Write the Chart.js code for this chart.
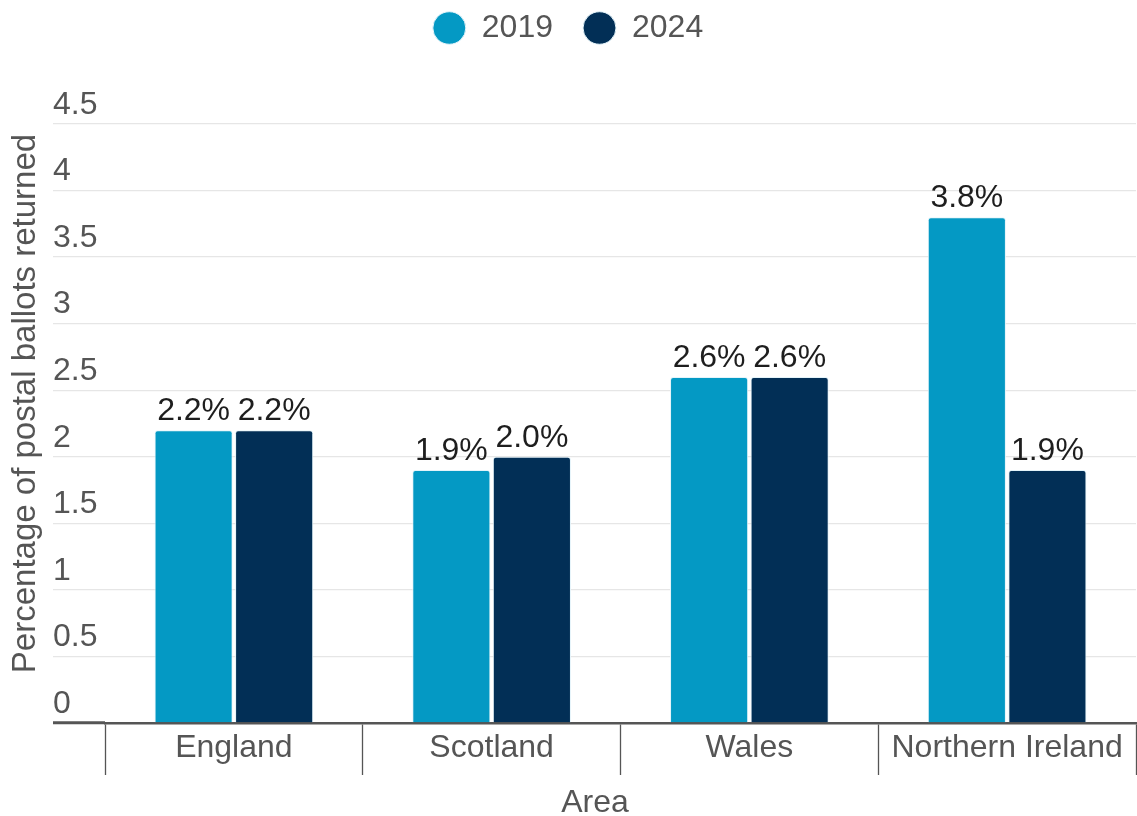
<!DOCTYPE html>
<html>
<head>
<meta charset="utf-8">
<script src="https://cdn.jsdelivr.net/npm/chart.js@4.4.1/dist/chart.umd.min.js"></script>
<style>
  html, body { margin: 0; padding: 0; background: #fff; }
  #wrap { width: 1137px; height: 816px; }
</style>
</head>
<body>
<div id="wrap"><canvas id="myChart"></canvas></div>
<script>
const areas = ["England", "Scotland", "Wales", "Northern Ireland"];
const returned2019 = [2.2, 1.9, 2.6, 3.8];
const returned2024 = [2.2, 2.0, 2.6, 1.9];
const yTicks = [0, 0.5, 1, 1.5, 2, 2.5, 3, 3.5, 4, 4.5];

const FONT = "'Liberation Sans', Arial, sans-serif";
const light = '#0499c4';
const dark = '#022f56';

// percentage labels on top of each bar
const barLabels = {
    id: 'barLabels',
    afterDatasetsDraw(chart) {
        const ctx = chart.ctx;
        ctx.save();
        ctx.font = '32px ' + FONT;
        ctx.fillStyle = '#1e1e1e';
        ctx.textAlign = 'center';
        ctx.textBaseline = 'alphabetic';
        chart.data.datasets.forEach((ds, i) => {
            chart.getDatasetMeta(i).data.forEach((bar, j) => {
                ctx.fillText(ds.data[j].toFixed(1) + '%', bar.x, bar.y - 10);
            });
        });
        ctx.restore();
    }
};

// "Area" sits centred under the whole plot including the y labels
const xTitle = {
    id: 'xTitle',
    afterDraw(chart) {
        const ctx = chart.ctx;
        const y = chart.scales.y;
        ctx.save();
        ctx.font = '32px ' + FONT;
        ctx.fillStyle = '#555';
        ctx.textAlign = 'center';
        ctx.textBaseline = 'middle';
        ctx.fillText('Area', (y.left + chart.width) / 2, chart.height - 13);
        ctx.restore();
    }
};

// leave room between the legend and the plot
const legendGap = {
    id: 'legendGap',
    beforeInit(chart) {
        const fit = chart.legend.fit;
        chart.legend.fit = function () {
            fit.bind(chart.legend)();
            this.height += 30;
        };
    }
};

new Chart(document.getElementById('myChart'), {
    type: 'bar',
    data: {
        labels: areas,
        datasets: [
            { label: '2019', data: returned2019, backgroundColor: light },
            { label: '2024', data: returned2024, backgroundColor: dark }
        ]
    },
    options: {
        responsive: true,
        maintainAspectRatio: false,
        animation: false,
        layout: { padding: { top: -18, right: 1, bottom: 49, left: 0 } },
        datasets: {
            bar: {
                categoryPercentage: 0.625,
                barPercentage: 0.97,
                borderWidth: 1,
                borderColor: '#e4f4fa',
                borderSkipped: 'start',
                borderRadius: { topLeft: 3, topRight: 3 }
            }
        },
        plugins: {
            legend: {
                position: 'top',
                labels: {
                    usePointStyle: true,
                    pointStyle: 'circle',
                    boxHeight: 23,
                    pointStyleWidth: 33,
                    padding: 30,
                    color: '#555',
                    font: { family: FONT, size: 32 }
                }
            },
            tooltip: { enabled: false }
        },
        scales: {
            x: {
                offset: true,
                afterFit: scale => { scale.height = 44; },
                grid: {
                    offset: true,
                    drawOnChartArea: false,
                    drawTicks: true,
                    tickLength: 52,
                    tickColor: '#555',
                    tickWidth: 1.3
                },
                border: { display: true, color: '#555', width: 2.5 },
                ticks: {
                    color: '#555',
                    padding: -46,
                    font: { family: FONT, size: 32 }
                }
            },
            y: {
                min: 0,
                max: 4.8,
                weight: 0,
                afterBuildTicks: scale => { scale.ticks = yTicks.map(v => ({ value: v })); },
                afterFit: scale => { scale.width = 52; },
                grid: {
                    color: '#e6e6e6',
                    lineWidth: 1.3,
                    drawTicks: true,
                    tickLength: 52,
                    tickColor: ctx => ctx.tick && ctx.tick.value === 0 ? '#555' : '#e6e6e6',
                    tickWidth: ctx => ctx.tick && ctx.tick.value === 0 ? 3 : 1.3
                },
                border: { display: false },
                ticks: {
                    crossAlign: 'far',
                    labelOffset: -19,
                    color: '#555',
                    font: { family: FONT, size: 32 },
                    callback: v => String(v)
                }
            },
            yTitle: {
                type: 'linear',
                position: 'left',
                weight: 1,
                afterFit: scale => { scale.width = 53; },
                grid: { display: false, drawTicks: false },
                border: { display: false },
                ticks: { display: false },
                title: {
                    display: true,
                    text: 'Percentage of postal ballots returned',
                    color: '#555',
                    padding: { top: 6, bottom: 0 },
                    font: { family: FONT, size: 33 }
                }
            }
        }
    },
    plugins: [barLabels, xTitle, legendGap]
});
</script>
</body>
</html>
